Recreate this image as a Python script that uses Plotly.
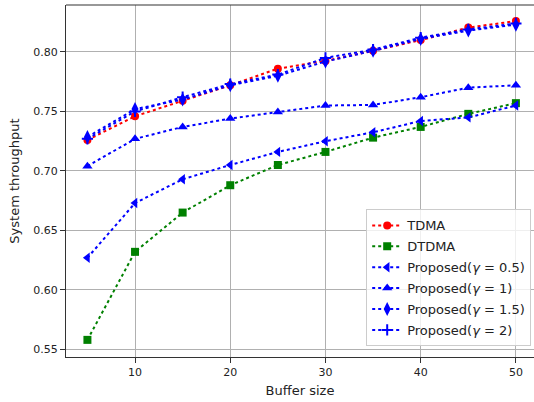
import plotly.graph_objects as go

buffer_size = [5, 10, 15, 20, 25, 30, 35, 40, 45, 50]
tdma = [0.726, 0.746, 0.759, 0.772, 0.786, 0.7925, 0.801, 0.810, 0.8205, 0.826]
dtdma = [0.558, 0.632, 0.665, 0.688, 0.705, 0.716, 0.728, 0.737, 0.748, 0.757]
prop_05 = [0.627, 0.673, 0.693, 0.705, 0.716, 0.725, 0.7325, 0.742, 0.745, 0.755]
prop_1 = [0.704, 0.727, 0.737, 0.744, 0.7495, 0.755, 0.7555, 0.762, 0.770, 0.772]
prop_15 = [0.7285, 0.752, 0.760, 0.772, 0.780, 0.792, 0.801, 0.811, 0.818, 0.823]
prop_2 = [0.727, 0.750, 0.762, 0.773, 0.781, 0.795, 0.802, 0.812, 0.819, 0.824]

series = [
    ("TDMA", tdma, "red", "circle", 8),
    ("DTDMA", dtdma, "green", "square", 8),
    ("Proposed(<i>γ</i> = 0.5)", prop_05, "blue", "triangle-left", 9),
    ("Proposed(<i>γ</i> = 1)", prop_1, "blue", "triangle-up", 9),
    ("Proposed(<i>γ</i> = 1.5)", prop_15, "blue", "diamond-tall", 10),
    ("Proposed(<i>γ</i> = 2)", prop_2, "blue", "cross-thin", 8),
]

fig = go.Figure()
for i, (name, vals, color, sym, size) in enumerate(series):
    marker = dict(symbol=sym, size=size, color=color)
    if sym == "cross-thin":
        marker["line"] = dict(color=color, width=2)
    fig.add_trace(go.Scatter(
        x=buffer_size, y=vals, name=name, mode="lines+markers",
        line=dict(color=color, width=2, dash="dot"),
        marker=marker, legendgroup=f"g{i}",
    ))

# top spine (no right spine in the reference)
fig.add_shape(type="line", xref="paper", yref="paper", x0=0, x1=1, y0=1, y1=1,
              line=dict(color="#333", width=1.2), layer="above")

fig.update_layout(
    width=534, height=402,
    margin=dict(l=66, r=0, t=5, b=45),
    plot_bgcolor="white", paper_bgcolor="white",
    font=dict(family="DejaVu Sans", size=11, color="#222"),
    showlegend=True,
    legend=dict(
        x=0.994, y=0.03, xanchor="right", yanchor="bottom",
        bgcolor="rgba(255,255,255,0.8)", bordercolor="#cccccc", borderwidth=1,
        font=dict(family="DejaVu Sans", size=13, color="#222"),
        tracegroupgap=1, itemwidth=30,
    ),
    xaxis=dict(
        range=[2.75, 51.9], tickvals=[10, 20, 30, 40, 50],
        showgrid=True, gridcolor="#b0b0b0", gridwidth=1,
        showline=True, linecolor="#333", linewidth=1.2,
        ticks="outside", ticklen=5, tickcolor="#333",
        tickfont=dict(size=11),
        title=dict(text="Buffer size", standoff=7, font=dict(size=13)),
        zeroline=False, automargin=False,
    ),
    yaxis=dict(
        range=[0.5436, 0.8395], tickvals=[0.55, 0.60, 0.65, 0.70, 0.75, 0.80],
        tickformat=".2f",
        showgrid=True, gridcolor="#b0b0b0", gridwidth=1,
        showline=True, linecolor="#333", linewidth=1.2,
        ticks="outside", ticklen=5, tickcolor="#333",
        tickfont=dict(size=11),
        title=dict(text="System throughput", standoff=10, font=dict(size=13)),
        zeroline=False, automargin=False,
    ),
)
fig.write_html("out.html", config={"displayModeBar": False},
               post_script="document.body.style.margin='0';")
